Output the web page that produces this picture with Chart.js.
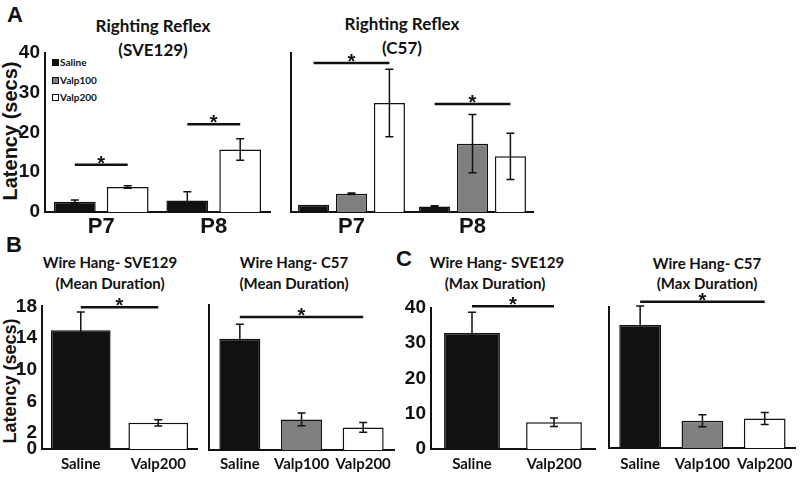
<!DOCTYPE html>
<html><head><meta charset="utf-8">
<script src="https://cdn.jsdelivr.net/npm/chart.js@4.4.1/dist/chart.umd.min.js"></script>
<style>
html,body{margin:0;padding:0;background:#fff;}
#wrap{position:relative;width:800px;height:479px;overflow:hidden;background:#fff;}
canvas{position:absolute;}
.t{position:absolute;transform:translate(-50%,-50%);white-space:nowrap;color:#111;font-family:Lato,sans-serif;font-weight:700;line-height:1;}
.ar{font-family:"Liberation Sans",Arial,sans-serif;}
.rot{transform:translate(-50%,-50%) rotate(-90deg);}
.leg{position:absolute;font-family:Lato,sans-serif;font-weight:700;font-size:10px;color:#111;line-height:1;white-space:nowrap;transform:translateY(-50%);}
.sw{display:inline-block;width:5px;height:5px;border:1px solid #111;margin-right:1px;vertical-align:-0px}
</style></head><body>
<div id="wrap">
  <div class="t ar" style="left:15px;top:15px;font-size:22px">A</div>
  <div class="t ar" style="left:14px;top:245px;font-size:22px">B</div>
  <div class="t ar" style="left:404px;top:259px;font-size:22px">C</div>

  <div class="t" style="left:153px;top:25px;font-size:17px">Righting Reflex</div>
  <div class="t" style="left:153px;top:49px;font-size:17px">(SVE129)</div>
  <div class="t" style="left:402px;top:23px;font-size:17px">Righting Reflex</div>
  <div class="t" style="left:402px;top:47px;font-size:17px">(C57)</div>

  <div class="t" style="left:110px;top:262px;font-size:15px">Wire Hang- SVE129</div>
  <div class="t" style="left:110px;top:283px;font-size:15px">(Mean Duration)</div>
  <div class="t" style="left:294px;top:262px;font-size:15px">Wire Hang- C57</div>
  <div class="t" style="left:294px;top:283px;font-size:15px">(Mean Duration)</div>
  <div class="t" style="left:497px;top:262px;font-size:15px">Wire Hang- SVE129</div>
  <div class="t" style="left:495px;top:283px;font-size:15px">(Max Duration)</div>
  <div class="t" style="left:707px;top:263px;font-size:15px">Wire Hang- C57</div>
  <div class="t" style="left:707px;top:283px;font-size:15px">(Max Duration)</div>

  <div class="t ar rot" style="left:10px;top:131px;font-size:20px">Latency (secs)</div>
  <div class="t ar rot" style="left:10px;top:381px;font-size:18px">Latency (secs)</div>

  <div class="leg" style="left:52px;top:62px"><span class="sw" style="background:#111"></span>Saline</div>
  <div class="leg" style="left:52px;top:80px"><span class="sw" style="background:#7f7f7f"></span>Valp100</div>
  <div class="leg" style="left:52px;top:97px"><span class="sw" style="background:#fff"></span>Valp200</div>
</div>
<script>
// ---------- data ----------
const rrCategories = ['P7', 'P8'];
const rrSveSaline = [2.6, 2.9];
const rrSveSalineErr = [0.4, 2.2];
const rrSveValp200 = [6.3, 15.7];
const rrSveValp200Err = [0.3, 2.7];
const rrSveSig = [11.9, 22.1];
const rrC57Saline = [1.8, 1.4];
const rrC57SalineErr = [0, 0.2];
const rrC57Valp100 = [4.6, 17.2];
const rrC57Valp100Err = [0.2, 7.3];
const rrC57Valp200 = [27.4, 14.0];
const rrC57Valp200Err = [8.5, 5.8];
const rrC57Sig = [37.5, 27.2];
const rrTicks = [0, 10, 20, 30, 40];

const whSveGroups = ['Saline', 'Valp200'];
const whC57Groups = ['Saline', 'Valp100', 'Valp200'];
const whSveMean = [15.0, 3.3];
const whSveMeanErr = [2.3, 0.4];
const whSveMeanSig = 17.9;
const whC57Mean = [13.8, 3.8, 2.8];
const whC57MeanErr = [1.8, 0.8, 0.6];
const whC57MeanSig = 16.5;
const whMeanTicks = [0, 2, 6, 10, 14, 18];
const whSveMax = [32.9, 7.6];
const whSveMaxErr = [5.9, 1.2];
const whSveMaxSig = 40.5;
const whC57Max = [34.9, 7.7, 8.4];
const whC57MaxErr = [5.4, 1.7, 1.7];
const whC57MaxSig = 41.5;
const whMaxTicks = [0, 10, 20, 30, 40];

const groupColor = {Saline: '#111111', Valp100: '#7f7f7f', Valp200: '#ffffff'};
const INK = '#111111';
const ARIAL = '"Liberation Sans", Arial, sans-serif';

// ---------- plugin: error bars + significance brackets ----------
const annot = {
  id: 'annot',
  afterDatasetsDraw(chart, args, opts) {
    const ctx = chart.ctx, y = chart.scales.y;
    ctx.save();
    ctx.strokeStyle = INK; ctx.lineWidth = 1.5;
    chart.data.datasets.forEach((ds, i) => {
      const meta = chart.getDatasetMeta(i);
      meta.data.forEach((bar, j) => {
        const e = ds.err ? ds.err[j] : 0;
        if (!e) return;
        const v = ds.data[j];
        const yt = y.getPixelForValue(v + e), yb = y.getPixelForValue(v - e);
        ctx.beginPath();
        ctx.moveTo(bar.x, yt); ctx.lineTo(bar.x, yb);
        ctx.moveTo(bar.x - 4, yt); ctx.lineTo(bar.x + 4, yt);
        ctx.moveTo(bar.x - 4, yb); ctx.lineTo(bar.x + 4, yb);
        ctx.stroke();
      });
    });
    (opts.sigs || []).forEach(s => {
      const x1 = chart.getDatasetMeta(s.a[0]).data[s.a[1]].x;
      const x2 = chart.getDatasetMeta(s.b[0]).data[s.b[1]].x;
      const py = y.getPixelForValue(s.y);
      ctx.lineWidth = 2.5;
      ctx.beginPath(); ctx.moveTo(x1, py); ctx.lineTo(x2, py); ctx.stroke();
      ctx.fillStyle = INK;
      ctx.font = 'bold 20px ' + ARIAL;
      ctx.textAlign = 'center'; ctx.textBaseline = 'alphabetic';
      ctx.fillText('*', (x1 + x2) / 2, py + 5);
    });
    ctx.restore();
  }
};

function makeChart(box, area, labels, datasets, yMax, ticks, showTicks, sigs, catPct, barPct, xFont, xPad) {
  const cv = document.createElement('canvas');
  cv.width = box.w; cv.height = box.h;
  cv.style.left = box.x + 'px'; cv.style.top = box.y + 'px';
  document.getElementById('wrap').appendChild(cv);
  return new Chart(cv, {
    type: 'bar',
    data: {
      labels: labels,
      datasets: datasets.map(d => ({
        label: d.label, data: d.data, err: d.err,
        backgroundColor: d.color, borderColor: INK, borderWidth: 1.5,
        categoryPercentage: catPct, barPercentage: barPct
      }))
    },
    options: {
      responsive: false, animation: false, devicePixelRatio: 1,
      layout: {padding: {left: 0, top: area.t - box.y, right: box.x + box.w - area.r, bottom: 0}},
      plugins: {legend: {display: false}, tooltip: {enabled: false}, title: {display: false}, annot: {sigs: sigs}},
      scales: {
        x: {
          grid: {display: false, drawTicks: false},
          border: {display: true, color: INK, width: 2},
          ticks: {color: INK, font: xFont, padding: xPad, maxRotation: 0, autoSkip: false},
          afterFit: s => { s.height = box.y + box.h - area.b; }
        },
        y: {
          min: 0, max: yMax,
          grid: {display: false, drawTicks: false},
          border: {display: true, color: INK, width: 2},
          ticks: {display: showTicks, color: INK, padding: 5, font: {family: ARIAL, size: 19, weight: 'bold'}},
          afterBuildTicks: s => { s.ticks = ticks.map(v => ({value: v})); },
          afterFit: s => { s.width = area.l - box.x; }
        }
      }
    },
    plugins: [annot]
  });
}

const pFont = {family: ARIAL, size: 22, weight: 'bold'};
const gFont = {family: 'Lato, sans-serif', size: 15, weight: 'bold'};

// A: Righting reflex SVE129
makeChart({x: 0, y: 0, w: 278, h: 240}, {l: 45, t: 53, r: 270, b: 212}, rrCategories, [
  {label: 'Saline', data: rrSveSaline, err: rrSveSalineErr, color: groupColor.Saline},
  {label: 'Valp200', data: rrSveValp200, err: rrSveValp200Err, color: groupColor.Valp200}
], 40, rrTicks, true,
  rrSveSig.map((v, k) => ({a: [0, k], b: [1, k], y: v})), 0.94, 0.79, pFont, 2);

// A: Righting reflex C57
makeChart({x: 278, y: 0, w: 267, h: 240}, {l: 291, t: 53, r: 533, b: 212}, rrCategories, [
  {label: 'Saline', data: rrC57Saline, err: rrC57SalineErr, color: groupColor.Saline},
  {label: 'Valp100', data: rrC57Valp100, err: rrC57Valp100Err, color: groupColor.Valp100},
  {label: 'Valp200', data: rrC57Valp200, err: rrC57Valp200Err, color: groupColor.Valp200}
], 40, rrTicks, false,
  rrC57Sig.map((v, k) => ({a: [0, k], b: [2, k], y: v})), 0.94, 0.82, pFont, 2);

// B: Wire hang mean
makeChart({x: 0, y: 290, w: 200, h: 189}, {l: 42, t: 306, r: 197, b: 449}, whSveGroups, [
  {label: 'Mean', data: whSveMean, err: whSveMeanErr, color: whSveGroups.map(g => groupColor[g])}
], 18, whMeanTicks, true,
  [{a: [0, 0], b: [0, 1], y: whSveMeanSig}], 1, 0.77, gFont, 6);

makeChart({x: 200, y: 290, w: 200, h: 189}, {l: 209, t: 305, r: 394, b: 450}, whC57Groups, [
  {label: 'Mean', data: whC57Mean, err: whC57MeanErr, color: whC57Groups.map(g => groupColor[g])}
], 18, whMeanTicks, false,
  [{a: [0, 0], b: [0, 2], y: whC57MeanSig}], 1, 0.665, gFont, 5);

// C: Wire hang max
makeChart({x: 400, y: 290, w: 200, h: 189}, {l: 431, t: 308, r: 595, b: 449}, whSveGroups, [
  {label: 'Max', data: whSveMax, err: whSveMaxErr, color: whSveGroups.map(g => groupColor[g])}
], 40, whMaxTicks, true,
  [{a: [0, 0], b: [0, 1], y: whSveMaxSig}], 1, 0.68, gFont, 6);

makeChart({x: 600, y: 290, w: 200, h: 189}, {l: 609, t: 307, r: 796, b: 448}, whC57Groups, [
  {label: 'Max', data: whC57Max, err: whC57MaxErr, color: whC57Groups.map(g => groupColor[g])}
], 40, whMaxTicks, false,
  [{a: [0, 0], b: [0, 2], y: whC57MaxSig}], 1, 0.67, gFont, 7);
</script>
</body></html>
